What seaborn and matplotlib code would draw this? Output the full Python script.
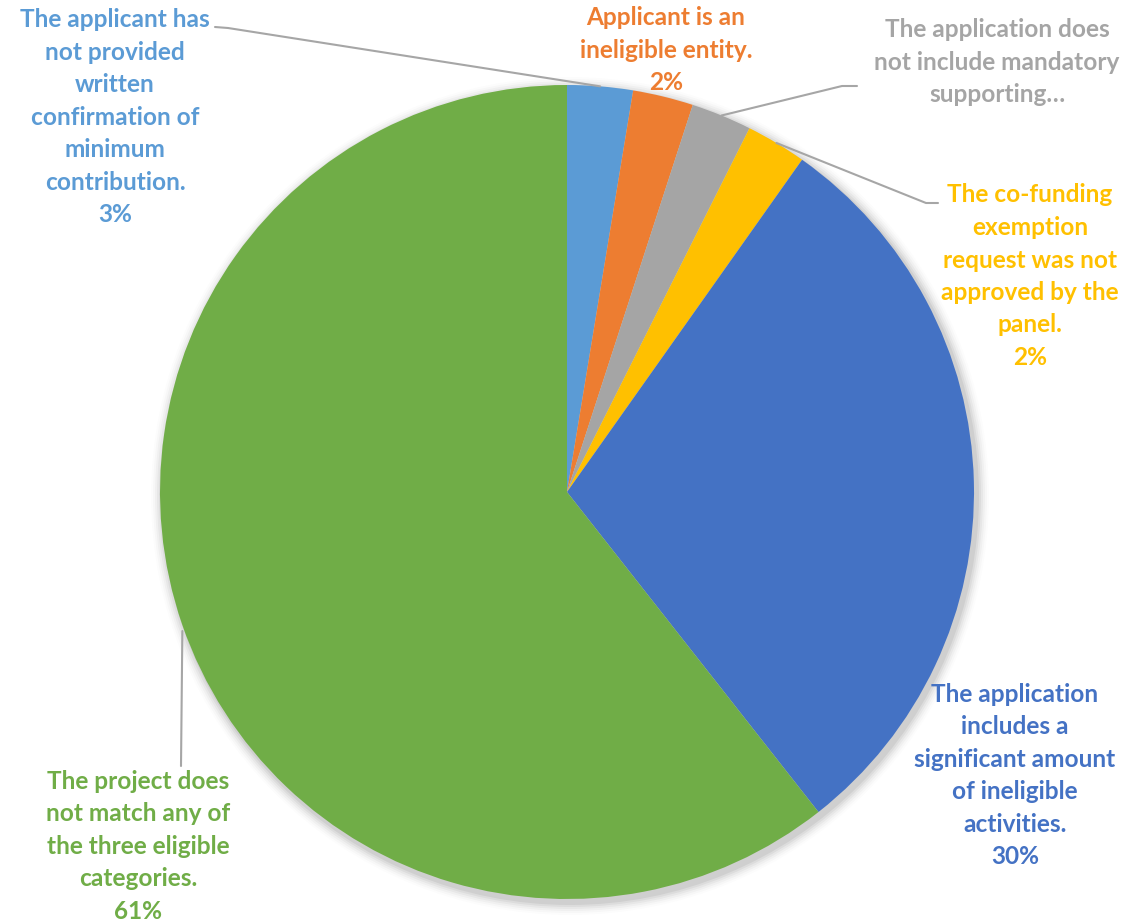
import numpy as np
import matplotlib
matplotlib.use("Agg")
import matplotlib.pyplot as plt
import seaborn as sns
from matplotlib.patches import Circle

categories = [
    "The applicant has\nnot provided\nwritten\nconfirmation of\nminimum\ncontribution.",
    "Applicant is an\nineligible entity.",
    "The application does\nnot include mandatory\nsupporting…",
    "The co-funding\nexemption\nrequest was not\napproved by the\npanel.",
    "The application\nincludes a\nsignificant amount\nof ineligible\nactivities.",
    "The project does\nnot match any of\nthe three eligible\ncategories.",
]
values = [2.6, 2.4, 2.4, 2.4, 29.6, 60.6]
pct_labels = ["3%", "2%", "", "2%", "30%", "61%"]  # gray label is truncated in the source
colors = ["#5B9BD5", "#ED7D31", "#A5A5A5", "#FFC000", "#4472C4", "#70AD47"]

sns.set_theme(style="white")
plt.rcParams['font.family'] = ['Lato', 'DejaVu Sans']

W, H = 1133, 921
fig = plt.figure(figsize=(W / 100, H / 100), dpi=100)
ax = fig.add_axes([0, 0, 1, 1])

cx, cy, R = 567, H - 492, 407

# soft shadow
for i, a in enumerate(np.linspace(0.05, 0.01, 6)):
    ax.add_patch(Circle((cx + 3, cy - 4), R + 2 + i * 2, color="black", alpha=a, lw=0, zorder=0))

wedges, _ = ax.pie(values, colors=colors, startangle=90, counterclock=False,
                   center=(cx, cy), radius=R, wedgeprops=dict(linewidth=0), frame=True)
ax.set_xlim(0, W)
ax.set_ylim(0, H)
ax.set_aspect("auto")
ax.axis("off")

# label positions (center x, top-line y in image coords)
label_pos = [(115, 20), (666, 18), (997, 30), (1030, 195), (1015, 694), (138, 781)]
line_h = 32.5
fs = 17.6

for i, (lab, pct) in enumerate(zip(categories, pct_labels)):
    lines = lab.split("\n") + ([pct] if pct else [])
    x, y0 = label_pos[i]
    for k, ln in enumerate(lines):
        ax.text(x, H - (y0 + k * line_h), ln, ha="center", va="center",
                fontsize=fs, fontweight="bold", color=colors[i], zorder=5)

def mid_point(w):
    th = np.deg2rad((w.theta1 + w.theta2) / 2)
    return cx + R * np.cos(th), cy + R * np.sin(th)

lc = "#A6A6A6"
# leader lines
p = mid_point(wedges[0])
ax.plot([p[0], 228, 215], [p[1], H - 28, H - 27], color=lc, lw=1.5, zorder=4)
p = mid_point(wedges[2])
ax.plot([p[0], 842, 857], [p[1], H - 86, H - 86], color=lc, lw=1.5, zorder=4)
p = mid_point(wedges[3])
ax.plot([p[0], 926, 938], [p[1], H - 203, H - 203], color=lc, lw=1.5, zorder=4)
p = mid_point(wedges[5])
ax.plot([p[0], 181], [p[1] - 6, H - 766], color=lc, lw=1.5, zorder=4)

fig.savefig("out.png", dpi=100)
